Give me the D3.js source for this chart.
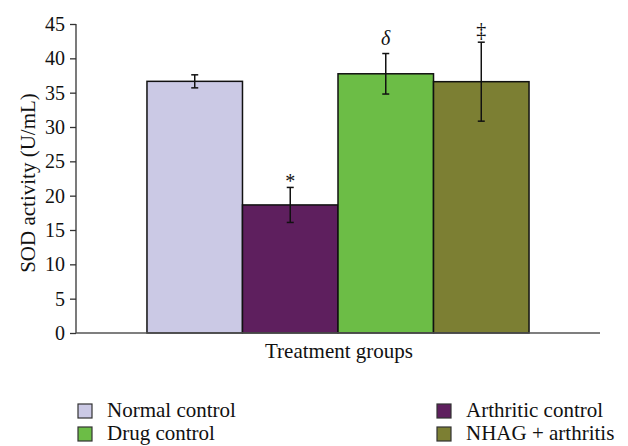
<!DOCTYPE html>
<html><head><meta charset="utf-8">
<script src="https://cdn.jsdelivr.net/npm/d3@7"></script>
<style>body{margin:0;background:#fff}svg{display:block}text{font-family:"Liberation Serif","Times New Roman",serif}</style>
</head><body><svg id="c" width="628" height="446"></svg>
<script>
const groups = ["Normal control","Arthritic control","Drug control","NHAG + arthritis"];
const values = [36.65, 18.65, 37.75, 36.6];
const errors = [0.95, 2.55, 2.95, 5.75];
const marks = ["", "*", "δ", "‡"];
const colors = ["#cbc9e5","#5e1f5e","#6cbd46","#7c7f33"];
const yTicks = [0,5,10,15,20,25,30,35,40,45];

const svg = d3.select("#c");
const x0 = 76, x1 = 600, yTop = 24, yBot = 333;
const x = d3.scaleBand().domain(groups).range([x0, x1]).paddingInner(0).paddingOuter(0.743);
const y = d3.scaleLinear().domain([0,45]).range([yBot, yTop]);

// y axis
const ya = svg.append("g").attr("transform",`translate(${x0},0)`)
  .call(d3.axisLeft(y).tickValues(yTicks).tickSize(6).tickPadding(5));
ya.selectAll("path,line").attr("stroke","#333").attr("stroke-width",1.3);
ya.select(".domain").attr("d",`M0,${yTop}V${yBot}`);
ya.selectAll("text").attr("font-size",20).attr("fill","#111").attr("font-family","Liberation Serif, serif");

// bars
svg.append("g").selectAll("rect").data(groups).join("rect")
  .attr("x", d=>x(d)).attr("width", x.bandwidth())
  .attr("y", (d,i)=>y(values[i])).attr("height",(d,i)=>y(0)-y(values[i]))
  .attr("fill",(d,i)=>colors[i]).attr("stroke","#111").attr("stroke-width",1.5);

// x axis line
svg.append("line").attr("x1",x0).attr("x2",x1).attr("y1",yBot).attr("y2",yBot)
  .attr("stroke","#555").attr("stroke-width",1.6);

// error bars and significance marks
const eb = svg.append("g").attr("stroke","#111").attr("stroke-width",1.5);
const markOffset = {"*": 1, "δ": -9, "‡": -5};
groups.forEach((g,i)=>{
  const cx = x(g)+x.bandwidth()/2;
  const t = y(values[i]+errors[i]), b = y(values[i]-errors[i]);
  eb.append("line").attr("x1",cx).attr("x2",cx).attr("y1",t).attr("y2",b);
  eb.append("line").attr("x1",cx-3.5).attr("x2",cx+3.5).attr("y1",t).attr("y2",t);
  eb.append("line").attr("x1",cx-3.5).attr("x2",cx+3.5).attr("y1",b).attr("y2",b);
  if (marks[i]) svg.append("text").attr("x",cx).attr("y",t+markOffset[marks[i]])
     .attr("text-anchor","middle").attr("font-size",20).attr("fill","#111")
     .attr("font-style", marks[i]==="δ"?"italic":"normal").text(marks[i]);
});

// axis titles
svg.append("text").attr("x",339).attr("y",358).attr("text-anchor","middle")
  .attr("font-size",21).attr("fill","#111").text("Treatment groups");
svg.append("text").attr("transform",`translate(35,183) rotate(-90)`)
  .attr("text-anchor","middle").attr("font-size",21).attr("fill","#111").text("SOD activity (U/mL)");

// legend
const legPos = [[78,417],[437,417],[78,440],[437,440]];
groups.forEach((g,i)=>{
  const [lx,ly] = legPos[i];
  svg.append("rect").attr("x",lx).attr("y",ly-13).attr("width",14).attr("height",14)
    .attr("fill",colors[i]).attr("stroke","#333").attr("stroke-width",1.2);
  svg.append("text").attr("x",lx+29).attr("y",ly)
    .attr("font-size",21).attr("fill","#111").text(g);
});
</script></body></html>
